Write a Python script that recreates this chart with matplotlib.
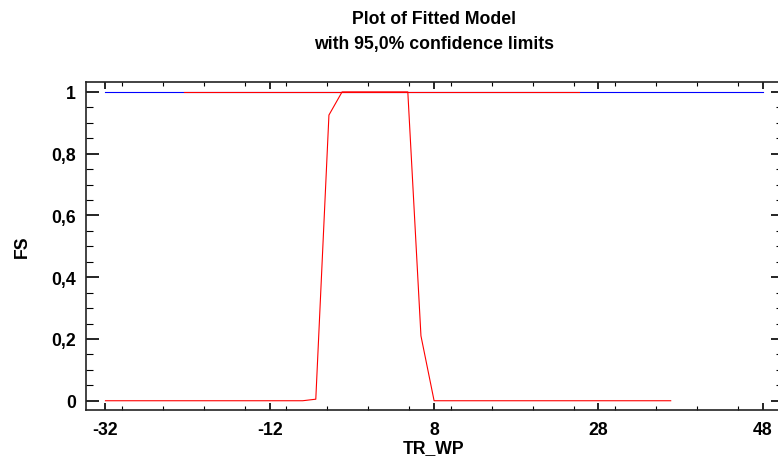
import matplotlib
matplotlib.use('Agg')

import numpy as np
import matplotlib.pyplot as plt
from matplotlib.ticker import MultipleLocator, FixedLocator, FuncFormatter

# fitted model and 95% limits
fit_x = [-32, 48]
fit_y = [1, 1]

upper_x = [-22.4, 25.6]
upper_y = [1, 1]

lower_x = [-32, -8.0, -6.4, -4.8, -3.2, 4.8, 6.4, 8.0, 36.8]
lower_y = [0, 0, 0.005, 0.925, 1, 1, 0.21, 0, 0]

x_ticks = [-32, -12, 8, 28, 48]
y_ticks = [0, 0.2, 0.4, 0.6, 0.8, 1.0]

plt.rcParams['font.family'] = ['Liberation Sans', 'DejaVu Sans']
plt.rcParams['font.weight'] = 'bold'
plt.rcParams['axes.unicode_minus'] = False

fs = 12.7

fig = plt.figure(figsize=(7.78, 4.6), dpi=100)
ax = fig.add_axes([85.5 / 778, 1 - 410.7 / 460, (782.7 - 85.5) / 778, (410.7 - 83) / 460])

ax.plot(fit_x, fit_y, color='#0000ff', lw=0.8)
ax.plot(upper_x, upper_y, color='#ff0000', lw=0.8)
ax.plot(lower_x, lower_y, color='#ff0000', lw=0.8)

ax.set_xlim(-34.43, 50.43)
ax.set_ylim(-0.029, 1.032)

ax.xaxis.set_major_locator(FixedLocator(x_ticks))
ax.xaxis.set_minor_locator(MultipleLocator(5))
ax.yaxis.set_major_locator(FixedLocator(y_ticks))
ax.yaxis.set_minor_locator(MultipleLocator(0.05))

def comma(v, pos):
    s = f'{v:g}'
    return s.replace('.', ',')

ax.yaxis.set_major_formatter(FuncFormatter(comma))

ax.tick_params(axis='x', which='major', direction='in', length=5, width=1.2,
               top=True, bottom=True, labelsize=fs, pad=8)
ax.tick_params(axis='x', which='minor', direction='in', length=3, width=0.8,
               top=True, bottom=True)
ax.tick_params(axis='y', which='major', direction='in', length=9, width=1.2,
               left=True, right=True, labelsize=fs, pad=7)
ax.tick_params(axis='y', which='minor', direction='in', length=5, width=0.8,
               left=True, right=True)

for s in ax.spines.values():
    s.set_linewidth(1.2)
    s.set_color('#222222')

for lbl in ax.get_xticklabels() + ax.get_yticklabels():
    lbl.set_fontweight('bold')

fig.text(434 / 778, 1 - 449 / 460, 'TR_WP', ha='center', va='center', fontsize=fs, fontweight='bold')
fig.text(22 / 778, 1 - 247 / 460, 'FS', ha='center', va='center', rotation=90, fontsize=fs, fontweight='bold')

fig.text(434 / 778, 1 - 20 / 460, 'Plot of Fitted Model', ha='center', va='center', fontsize=fs, fontweight='bold')
fig.text(434 / 778, 1 - 45 / 460, 'with 95,0% confidence limits', ha='center', va='center', fontsize=fs, fontweight='bold')

fig.savefig('out.png', dpi=100)
